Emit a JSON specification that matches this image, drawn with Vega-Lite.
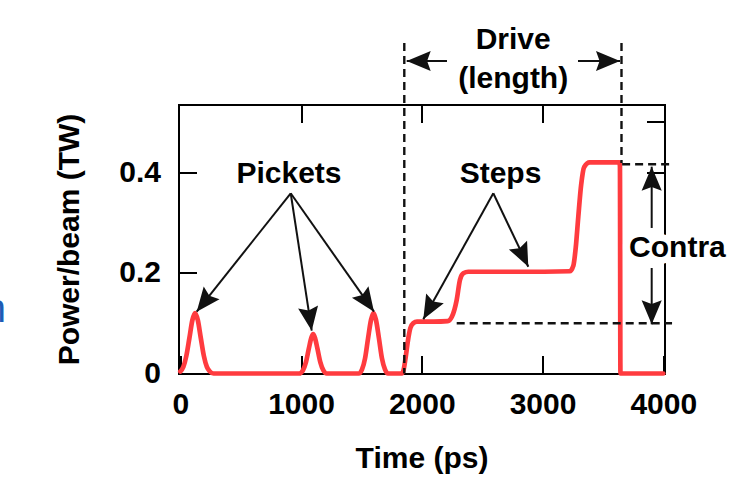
{
  "$schema": "https://vega.github.io/schema/vega-lite/v6.json",
  "width": 486,
  "height": 269,
  "autosize": "none",
  "padding": {"left": 178.5, "top": 104.5, "right": 65.5, "bottom": 104},
  "background": "white",
  "config": {
    "view": {"stroke": null},
    "font": "Liberation Sans",
    "axis": {
      "grid": false,
      "domainColor": "black",
      "domainWidth": 2,
      "domainCap": "square",
      "tickColor": "black",
      "tickWidth": 2,
      "labelFont": "Liberation Sans",
      "labelFontWeight": "bold",
      "labelFontSize": 30,
      "labelColor": "black",
      "labelOverlap": false,
      "titleFont": "Liberation Sans",
      "titleFontWeight": "bold",
      "titleFontSize": 30,
      "titleColor": "black"
    }
  },
  "datasets": {
    "curve": [
      {"t": 0, "p": 0.004}, {"t": 25, "p": 0.013}, {"t": 50, "p": 0.035}, {"t": 75, "p": 0.07}, {"t": 100, "p": 0.106},
      {"t": 122, "p": 0.12}, {"t": 145, "p": 0.106}, {"t": 170, "p": 0.07}, {"t": 195, "p": 0.035}, {"t": 220, "p": 0.013},
      {"t": 245, "p": 0.004}, {"t": 275, "p": 0}, {"t": 600, "p": 0}, {"t": 985, "p": 0},
      {"t": 1015, "p": 0.006}, {"t": 1040, "p": 0.022}, {"t": 1065, "p": 0.05}, {"t": 1085, "p": 0.071}, {"t": 1100, "p": 0.078},
      {"t": 1115, "p": 0.071}, {"t": 1135, "p": 0.05}, {"t": 1160, "p": 0.022}, {"t": 1185, "p": 0.006}, {"t": 1212, "p": 0},
      {"t": 1350, "p": 0}, {"t": 1478, "p": 0},
      {"t": 1505, "p": 0.008}, {"t": 1530, "p": 0.03}, {"t": 1555, "p": 0.07}, {"t": 1580, "p": 0.107}, {"t": 1600, "p": 0.12},
      {"t": 1620, "p": 0.107}, {"t": 1645, "p": 0.07}, {"t": 1670, "p": 0.03}, {"t": 1695, "p": 0.008}, {"t": 1720, "p": 0},
      {"t": 1790, "p": 0}, {"t": 1835, "p": 0},
      {"t": 1850, "p": 0.008}, {"t": 1865, "p": 0.03}, {"t": 1885, "p": 0.065}, {"t": 1905, "p": 0.09}, {"t": 1930, "p": 0.1},
      {"t": 1960, "p": 0.103}, {"t": 2100, "p": 0.103}, {"t": 2215, "p": 0.104},
      {"t": 2248, "p": 0.112}, {"t": 2289, "p": 0.146}, {"t": 2316, "p": 0.186}, {"t": 2344, "p": 0.199}, {"t": 2385, "p": 0.202},
      {"t": 2800, "p": 0.202}, {"t": 3225, "p": 0.203},
      {"t": 3255, "p": 0.214}, {"t": 3275, "p": 0.25}, {"t": 3296, "p": 0.311}, {"t": 3320, "p": 0.375}, {"t": 3345, "p": 0.41},
      {"t": 3390, "p": 0.419}, {"t": 3500, "p": 0.419}, {"t": 3636, "p": 0.419}, {"t": 3641, "p": 0.412},
      {"t": 3645, "p": 0}, {"t": 3700, "p": 0}, {"t": 4000, "p": 0}
    ],
    "dashed": [
      {"x": 1855, "y": 0.6562, "x2": 1855, "y2": 0.0},
      {"x": 3653.8, "y": 0.6562, "x2": 3653.8, "y2": 0.418},
      {"x": 3659, "y": 0.4153, "x2": 4072.5, "y2": 0.4153},
      {"x": 2289, "y": 0.0997, "x2": 4072.5, "y2": 0.0997}
    ],
    "arrows": [
      {"x": 914.3, "y": 0.3578, "x2": 135.8, "y2": 0.1227, "angle": 218.4},
      {"x": 914.3, "y": 0.3578, "x2": 1088.2, "y2": 0.085, "angle": 171.3},
      {"x": 914.3, "y": 0.3578, "x2": 1604.1, "y2": 0.1227, "angle": 144.9},
      {"x": 2592.1, "y": 0.3578, "x2": 2012.4, "y2": 0.1076, "angle": 209.1},
      {"x": 2592.1, "y": 0.3578, "x2": 2882, "y2": 0.212, "angle": 154.5},
      {"x": 2208.6, "y": 0.6204, "x2": 1875, "y2": 0.6204, "angle": 270},
      {"x": 3293.6, "y": 0.6204, "x2": 3641.4, "y2": 0.6204, "angle": 90},
      {"x": 3903.9, "y": 0.2889, "x2": 3903.9, "y2": 0.4106, "angle": 0},
      {"x": 3903.9, "y": 0.2094, "x2": 3903.9, "y2": 0.0977, "angle": 180}
    ],
    "labels": [
      {"x": 900, "y": 0.3776, "text": "Pickets"},
      {"x": 2652, "y": 0.3776, "text": "Steps"},
      {"x": 2757, "y": 0.645, "text": "Drive"},
      {"x": 2757, "y": 0.5668, "text": "(length)"},
      {"x": 4117, "y": 0.2313, "text": "Contra"}
    ],
    "fragment": [
      {"x": -1443.5, "y": 0.1022, "text": "n"}
    ]
  },
  "layer": [
    {
      "data": {"name": "curve"},
      "mark": {"type": "line", "color": "#ff3b3f", "strokeWidth": 4.7, "interpolate": "monotone", "strokeJoin": "round", "strokeCap": "round"},
      "encoding": {
        "x": {"field": "t", "type": "quantitative", "scale": {"domain": [-15, 4010], "nice": false, "zero": false},
          "axis": {"orient": "bottom", "title": "Time (ps)", "values": [0, 1000, 2000, 3000, 4000], "format": "d", "tickSize": -18, "labelPadding": 34, "titlePadding": 24}},
        "y": {"field": "p", "type": "quantitative", "scale": {"domain": [0, 0.534], "nice": false, "zero": false},
          "axis": {"orient": "left", "title": "Power/beam (TW)", "values": [0, 0.2, 0.4], "format": "~g", "tickSize": -18, "labelPadding": 36, "titlePadding": 34}}
      }
    },
    {
      "data": {"name": "dashed"},
      "mark": {"type": "rule", "color": "#111111", "strokeWidth": 2.4, "strokeDash": [8, 5]},
      "encoding": {
        "x": {"field": "x", "type": "quantitative", "scale": {"domain": [-15, 4010], "nice": false, "zero": false},
          "axis": {"orient": "top", "title": null, "labels": false, "values": [1000, 2000, 3000], "tickSize": -18}},
        "x2": {"field": "x2"},
        "y": {"field": "y", "type": "quantitative", "scale": {"domain": [0, 0.534], "nice": false, "zero": false},
          "axis": {"orient": "right", "title": null, "labels": false, "values": [0.4, 0.5], "tickSize": -18}},
        "y2": {"field": "y2"}
      }
    },
    {
      "data": {"name": "arrows"},
      "mark": {"type": "rule", "color": "#111111", "strokeWidth": 2},
      "encoding": {
        "x": {"field": "x", "type": "quantitative", "scale": {"domain": [-15, 4010], "nice": false, "zero": false}, "axis": null},
        "x2": {"field": "x2"},
        "y": {"field": "y", "type": "quantitative", "scale": {"domain": [0, 0.534], "nice": false, "zero": false}, "axis": null},
        "y2": {"field": "y2"}
      }
    },
    {
      "data": {"name": "arrows"},
      "mark": {"type": "point", "shape": "M0,0L-0.42,1L0,0.85L0.42,1Z", "size": 2304, "filled": true, "color": "#111111", "opacity": 1, "strokeWidth": 0},
      "encoding": {
        "x": {"field": "x2", "type": "quantitative", "scale": {"domain": [-15, 4010], "nice": false, "zero": false}, "axis": null},
        "y": {"field": "y2", "type": "quantitative", "scale": {"domain": [0, 0.534], "nice": false, "zero": false}, "axis": null},
        "angle": {"field": "angle", "type": "quantitative", "scale": null}
      }
    },
    {
      "data": {"name": "labels"},
      "transform": [{"filter": "datum.text === 'Contra'"}],
      "mark": {"type": "text", "font": "Liberation Sans", "fontWeight": "bold", "fontSize": 30, "align": "center", "baseline": "alphabetic", "color": "white", "stroke": "white", "strokeWidth": 14, "strokeJoin": "round"},
      "encoding": {
        "x": {"field": "x", "type": "quantitative", "scale": {"domain": [-15, 4010], "nice": false, "zero": false}, "axis": null},
        "y": {"field": "y", "type": "quantitative", "scale": {"domain": [0, 0.534], "nice": false, "zero": false}, "axis": null},
        "text": {"field": "text"}
      }
    },
    {
      "data": {"name": "labels"},
      "mark": {"type": "text", "font": "Liberation Sans", "fontWeight": "bold", "fontSize": 30, "align": "center", "baseline": "alphabetic", "color": "black"},
      "encoding": {
        "x": {"field": "x", "type": "quantitative", "scale": {"domain": [-15, 4010], "nice": false, "zero": false}, "axis": null},
        "y": {"field": "y", "type": "quantitative", "scale": {"domain": [0, 0.534], "nice": false, "zero": false}, "axis": null},
        "text": {"field": "text"}
      }
    },
    {
      "data": {"name": "fragment"},
      "mark": {"type": "text", "font": "Liberation Sans", "fontSize": 40, "align": "right", "baseline": "alphabetic", "color": "#1d5cb6"},
      "encoding": {
        "x": {"field": "x", "type": "quantitative", "scale": {"domain": [-15, 4010], "nice": false, "zero": false}, "axis": null},
        "y": {"field": "y", "type": "quantitative", "scale": {"domain": [0, 0.534], "nice": false, "zero": false}, "axis": null},
        "text": {"field": "text"}
      }
    }
  ],
  "resolve": {"axis": {"x": "independent", "y": "independent"}}
}
